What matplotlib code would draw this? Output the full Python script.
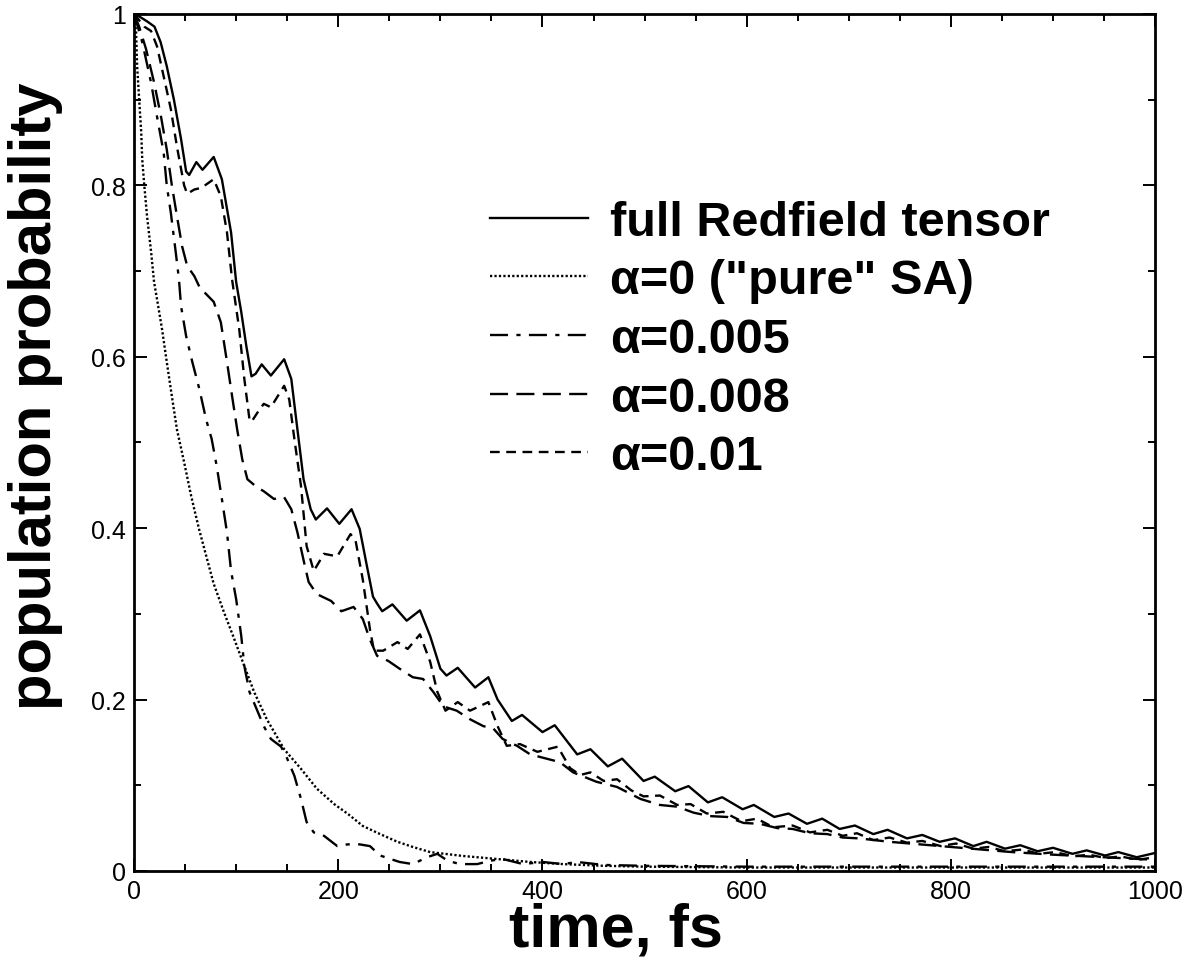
import matplotlib

matplotlib.use("Agg")
import matplotlib.pyplot as plt
from matplotlib.ticker import FormatStrFormatter, MultipleLocator

plt.rcParams["font.family"] = ["Liberation Sans", "DejaVu Sans"]
plt.rcParams["lines.scale_dashes"] = False

# full Redfield tensor
t_full = [0, 5, 13, 20, 26, 32, 39, 46, 51, 54, 61, 67, 78, 86, 95, 100, 105,
          110, 115, 119, 125, 134, 147, 154, 160, 166, 173, 178, 189, 201, 213,
          221, 228, 234, 238, 243, 253, 267, 280, 290, 300, 306, 317, 334, 347,
          356, 370, 380, 400, 412, 434, 447, 464, 478, 499, 510, 530, 543, 562,
          576, 596, 607, 627, 641, 659, 674, 691, 706, 724, 738, 757, 772, 789,
          804, 822, 835, 853, 868, 885, 900, 919, 933, 951, 964, 982, 1000]
p_full = [1.0, 0.997, 0.991, 0.985, 0.967, 0.939, 0.90, 0.854, 0.816, 0.812,
          0.827, 0.818, 0.833, 0.807, 0.745, 0.687, 0.652, 0.612, 0.577, 0.580,
          0.591, 0.578, 0.597, 0.574, 0.515, 0.457, 0.422, 0.41, 0.423, 0.405,
          0.422, 0.399, 0.356, 0.32, 0.312, 0.303, 0.311, 0.292, 0.304, 0.274,
          0.236, 0.228, 0.237, 0.214, 0.226, 0.2, 0.175, 0.182, 0.162, 0.170,
          0.136, 0.142, 0.122, 0.131, 0.105, 0.11, 0.093, 0.099, 0.080, 0.086,
          0.072, 0.077, 0.063, 0.067, 0.055, 0.061, 0.049, 0.053, 0.043, 0.048,
          0.038, 0.042, 0.034, 0.038, 0.029, 0.034, 0.026, 0.030, 0.023, 0.027,
          0.020, 0.024, 0.018, 0.022, 0.016, 0.021]

# alpha = 0 ("pure" SA)
t_a0 = [0, 2, 3, 5, 7, 8, 10, 12.7, 16.7, 19.6, 22.5, 27.4, 32, 37, 42, 49, 56,
        63.6, 71, 78, 88, 98, 108, 117.5, 130, 147, 163.6, 179, 196, 210, 224,
        241, 258, 273, 290, 322, 355, 388, 420, 460, 500, 600, 700, 800, 900,
        1000]
p_a0 = [1.0, 0.978, 0.939, 0.90, 0.862, 0.83, 0.80, 0.764, 0.722, 0.687, 0.667,
        0.632, 0.594, 0.554, 0.515, 0.477, 0.437, 0.399, 0.366, 0.335, 0.302,
        0.271, 0.239, 0.209, 0.177, 0.142, 0.119, 0.096, 0.078, 0.066, 0.0525,
        0.043, 0.034, 0.028, 0.022, 0.0175, 0.014, 0.0105, 0.008, 0.006, 0.005,
        0.004, 0.004, 0.004, 0.004, 0.004]

# alpha = 0.005
t_a005 = [0, 8, 16.6, 22.5, 29, 32, 36, 41, 44, 46, 51, 57, 64, 70.5, 76, 81,
          86, 91, 95, 100, 105, 108, 113, 120, 127, 134, 144, 150, 157, 163.5,
          169, 176, 186, 199, 209, 221, 231, 241, 260, 273, 287, 297, 307, 319,
          336, 349, 361, 381, 400, 420, 434, 460, 500, 600, 700, 800, 900, 1000]
p_a005 = [1.0, 0.967, 0.92, 0.88, 0.838, 0.80, 0.768, 0.72, 0.69, 0.659, 0.624,
          0.594, 0.562, 0.527, 0.504, 0.472, 0.434, 0.395, 0.35, 0.317, 0.274,
          0.239, 0.209, 0.189, 0.169, 0.154, 0.145, 0.131, 0.111, 0.084, 0.057,
          0.045, 0.041, 0.029, 0.031, 0.031, 0.029, 0.018, 0.0105, 0.008, 0.016,
          0.02, 0.012, 0.008, 0.008, 0.012, 0.014, 0.008, 0.0105, 0.008, 0.0105,
          0.007, 0.006, 0.005, 0.005, 0.005, 0.005, 0.005]

# alpha = 0.008
t_a008 = [0, 5, 11.7, 19.6, 26.4, 32, 37, 42, 47, 52, 59, 65, 69, 78, 85, 91,
          96, 101, 106, 111, 120, 127, 137, 147, 154, 160, 166.5, 171, 179, 193,
          203, 215, 224, 231, 238, 249, 260, 273, 283, 293, 303, 316, 329, 342,
          352, 361, 375, 388, 404, 417, 430, 453, 473, 496, 515, 532, 548, 564,
          581, 597, 613, 630, 645, 662, 679, 694, 710, 740, 770, 800, 830, 860,
          900, 950, 1000]
p_a008 = [1.0, 0.985, 0.959, 0.92, 0.88, 0.842, 0.80, 0.764, 0.729, 0.706,
          0.694, 0.679, 0.675, 0.664, 0.64, 0.594, 0.554, 0.515, 0.48, 0.457,
          0.448, 0.443, 0.434, 0.436, 0.422, 0.395, 0.36, 0.337, 0.323, 0.315,
          0.303, 0.308, 0.294, 0.27, 0.251, 0.245, 0.236, 0.226, 0.224, 0.209,
          0.192, 0.187, 0.177, 0.169, 0.166, 0.154, 0.146, 0.136, 0.131, 0.127,
          0.115, 0.104, 0.098, 0.084, 0.077, 0.075, 0.068, 0.064, 0.063, 0.056,
          0.055, 0.050, 0.049, 0.044, 0.043, 0.039, 0.038, 0.034, 0.031, 0.028,
          0.025, 0.022, 0.019, 0.016, 0.013]

# alpha = 0.01
t_a01 = [0, 10, 16.6, 22.5, 29, 36, 42, 49, 52, 59, 66, 78, 85, 91, 96, 103,
         108, 113, 115, 121, 127, 134, 147, 152, 157, 163.5, 169, 176, 186, 199,
         212, 217, 224, 231, 235, 244, 258, 268, 280, 290, 297, 305, 317, 329,
         347, 356, 365, 378, 395, 415, 427, 437, 447, 460, 473, 487, 499, 515,
         532, 545, 561, 577, 595, 610, 626, 645, 662, 679, 694, 708, 724, 740,
         757, 772, 790, 805, 822, 837, 853, 870, 886, 902, 920, 935, 952, 966,
         983, 1000]
p_a01 = [1.0, 0.985, 0.98, 0.962, 0.927, 0.889, 0.845, 0.80, 0.79, 0.795, 0.797,
         0.807, 0.787, 0.745, 0.69, 0.632, 0.574, 0.527, 0.524, 0.535, 0.545,
         0.541, 0.566, 0.55, 0.504, 0.449, 0.379, 0.35, 0.37, 0.367, 0.393, 0.385,
         0.34, 0.282, 0.257, 0.257, 0.267, 0.259, 0.276, 0.244, 0.209, 0.187,
         0.197, 0.187, 0.197, 0.169, 0.146, 0.148, 0.139, 0.145, 0.12, 0.112,
         0.115, 0.105, 0.107, 0.094, 0.087, 0.088, 0.077, 0.078, 0.067, 0.069,
         0.058, 0.061, 0.051, 0.053, 0.045, 0.048, 0.041, 0.044, 0.036, 0.039,
         0.033, 0.035, 0.029, 0.032, 0.026, 0.028, 0.023, 0.025, 0.020, 0.022,
         0.017, 0.019, 0.015, 0.017, 0.013, 0.016]

labels = ["full Redfield tensor", 'α=0 ("pure" SA)', "α=0.005", "α=0.008",
          "α=0.01"]

if __name__ == "__main__":
    fig = plt.figure(figsize=(11.97, 9.62), dpi=100)
    ax = fig.add_axes([0.112, 0.0936, 0.853, 0.891])

    lw = 1.7
    kw = dict(color="k", lw=lw, solid_joinstyle="round", dash_joinstyle="round")
    ax.plot(t_full, p_full, ls="-", label=labels[0], **kw)
    ax.plot(t_a0, p_a0, ls=(0, (1.6, 1.6)), label=labels[1], **kw)
    ax.plot(t_a005, p_a005, ls=(0, (13, 6, 3, 6)), label=labels[2], **kw)
    ax.plot(t_a008, p_a008, ls=(0, (13, 6)), label=labels[3], **kw)
    ax.plot(t_a01, p_a01, ls=(0, (7, 4.7)), label=labels[4], **kw)

    ax.set_xlim(0, 1000)
    ax.set_ylim(0, 1)
    ax.xaxis.set_major_locator(MultipleLocator(200))
    ax.xaxis.set_minor_locator(MultipleLocator(50))
    ax.yaxis.set_major_locator(MultipleLocator(0.2))
    ax.yaxis.set_minor_locator(MultipleLocator(0.1))
    ax.xaxis.set_major_formatter(FormatStrFormatter("%g"))
    ax.yaxis.set_major_formatter(FormatStrFormatter("%g"))
    ax.tick_params(which="both", direction="in", top=True, right=True,
                   width=1.4, labelsize=18, pad=6)
    ax.tick_params(which="major", length=9)
    ax.tick_params(which="minor", length=5)
    for sp in ax.spines.values():
        sp.set_linewidth(2)

    ax.set_xlabel("time, fs", fontsize=44, fontweight="bold")
    ax.xaxis.set_label_coords(0.472, -0.036, transform=ax.transAxes)
    ax.set_ylabel("population probability", fontsize=43, fontweight="bold")
    ax.yaxis.set_label_coords(-0.070, 0.555, transform=ax.transAxes)

    ax.legend(loc="upper left", bbox_to_anchor=(0.349, 0.783), frameon=False,
              prop={"size": 35, "weight": "bold"}, handlelength=2.0,
              handletextpad=0.47, labelspacing=0.28, borderpad=0,
              borderaxespad=0)

    fig.savefig("out.png", dpi=100)
